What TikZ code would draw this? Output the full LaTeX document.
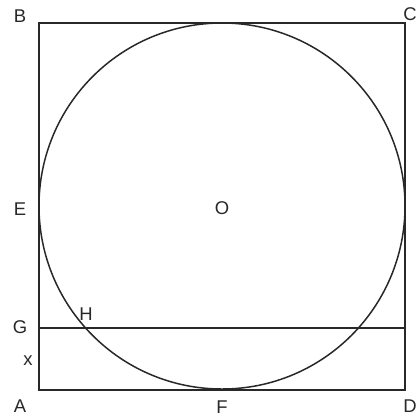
\documentclass[tikz,border=0pt]{standalone}
\usepackage{fontspec}
\setmainfont{Liberation Sans}
\usetikzlibrary{calc}
\definecolor{LineGray}{RGB}{40, 40, 40}

\begin{document}
\begin{tikzpicture}[x=0.02cm, y=-0.02cm,
  lbl/.style={font=\fontsize{10.5}{12}\selectfont, text=LineGray, inner sep=0pt},
  edge/.style={draw=LineGray, line width=0.85pt}
]
\clip (0,0) rectangle (418,416);
\useasboundingbox (0,0) rectangle (418,416);
% square corners
\coordinate (A) at (39,390);
\coordinate (B) at (39,23);
\coordinate (C) at (405,23);
\coordinate (D) at (405,390);
\coordinate (O) at (222,206);
\coordinate (G) at (39,328);
\coordinate (Gr) at (405,328);
\coordinate (H) at (86.5,328);

\draw[edge] (A) -- (B) -- (C) -- (D) -- cycle;
\draw[edge] (O) circle (183);
\draw[edge] (G) -- (Gr);

% labels
\node[lbl] (lB) at (20,16) {B};
\node[lbl] (lC) at (410,14) {C};
\node[lbl] (lE) at (20,209) {E};
\node[lbl] (lO) at (222,208) {O};
\node[lbl] (lG) at (20,327) {G};
\node[lbl] (lH) at (86,314) {H};
\node[lbl] (lx) at (28,361) {x};
\node[lbl] (lA) at (20,406) {A};
\node[lbl] (lF) at (222,407) {F};
\node[lbl] (lD) at (410,406) {D};
\end{tikzpicture}
\end{document}
